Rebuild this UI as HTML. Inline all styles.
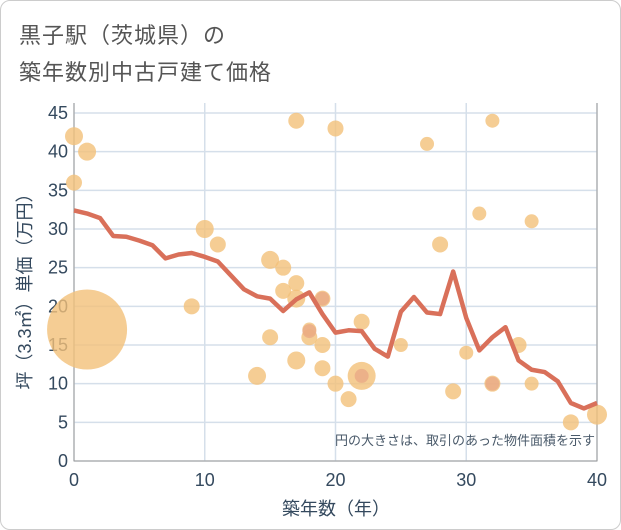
<!DOCTYPE html>
<html><head><meta charset="utf-8"><style>
body{margin:0;background:#fff;font-family:"Liberation Sans","Noto Sans CJK JP",sans-serif;}
#wrap{position:relative;width:619px;height:528px;border:1px solid #ccc;border-radius:10px;overflow:hidden;background:#fff}
#title{position:absolute;left:18px;top:16px;font-size:22px;line-height:37px;color:#555;letter-spacing:1px}
svg{position:absolute;left:0;top:0}
</style></head><body>
<div id="wrap">
<div id="title">黒子駅（茨城県）の<br>築年数別中古戸建て価格</div>
<svg id="chart" width="621" height="530"></svg>
</div>
<script>
const years=[0,1,2,3,4,5,6,7,8,9,10,11,12,13,14,15,16,17,18,19,20,21,22,23,24,25,26,27,28,29,30,31,32,33,34,35,36,37,38,39,40];
const avgPrice=[32.4,32,31.4,29.1,29,28.5,27.9,26.2,26.7,26.9,26.4,25.8,24,22.2,21.3,21,19.4,20.9,21.8,19,16.6,16.9,16.8,14.5,13.5,19.3,21.2,19.2,19,24.5,18.5,14.3,16,17.3,13,11.8,11.5,10.3,7.5,6.8,7.5];
const bubbleX=[0,0,1,1,9,10,11,14,15,15,16,16,17,17,17,17,18,18,19,19,19,20,20,21,22,22,25,27,28,29,30,31,32,32,34,35,35,38,40];
const bubbleY=[42,36,40,17,20,30,28,11,26,16,25,22,44,23,21,13,17,16,21,15,12,43,10,8,18,11,15,41,28,9,14,32,44,10,15,31,10,5,6];
const bubbleR=[9,8,9,40,8,9,8,9,9,8,8,8,8,8,9,9,7,8,8,8,8,8,8,8,8,14,7,7,8,8,7,7,7,8,8,7,7,8,10];
const pinkX=[22,32,18,19];
const pinkY=[11,10,16.8,21];
const xTicks=[0,10,20,30,40];
const yTicks=[0,5,10,15,20,25,30,35,40,45];
const X0=73,X1=596,Y0=460,Y1=112;
const sx=v=>X0+(X1-X0)*v/40, sy=v=>Y0-(Y0-Y1)*v/45;
const svg=document.getElementById('chart');const NS='http://www.w3.org/2000/svg';
function mk(t,a){const e=document.createElementNS(NS,t);for(const k in a)e.setAttribute(k,a[k]);svg.appendChild(e);return e;}
let g;
yTicks.forEach(v=>{g=mk('line',{x1:X0,x2:X1,y1:sy(v),y2:sy(v),stroke:'#d5dfea','stroke-width':1.5});


g=mk('text',{x:X0-6,y:sy(v)+6,'text-anchor':'end','font-size':18,fill:'#34495e'});g.textContent=v;

});
xTicks.forEach(v=>{g=mk('line',{x1:sx(v),x2:sx(v),y1:Y1-10,y2:Y0,stroke:'#d5dfea','stroke-width':1.5});


g=mk('text',{x:sx(v),y:Y0+25,'text-anchor':'middle','font-size':18,fill:'#34495e'});g.textContent=v;

});
g=mk('path',{d:`M${X0},${Y1-10}V${Y0}H${X1}V${Y1-10}`,fill:'none',stroke:'#999','stroke-width':1});


bubbleX.forEach((x,i)=>{g=mk('circle',{cx:sx(x),cy:sy(bubbleY[i]),r:bubbleR[i],fill:'#f2c079','fill-opacity':0.8});

});
pinkX.forEach((x,i)=>{g=mk('circle',{cx:sx(x),cy:sy(pinkY[i]),r:7,fill:'#e8a585','fill-opacity':0.7});

});
g=mk('polyline',{points:years.map((y,i)=>sx(y)+','+sy(avgPrice[i])).join(' '),fill:'none',stroke:'#d9705a','stroke-width':4.5,'stroke-linejoin':'round'});


g=mk('text',{x:594,y:444,'text-anchor':'end','font-size':13,fill:'#4a5a6a'});g.textContent='円の大きさは、取引のあった物件面積を示す';


g=mk('text',{x:335,y:514,'text-anchor':'middle','font-size':18,fill:'#34495e'});g.textContent='築年数（年）';


g=mk('text',{x:30,y:286,'text-anchor':'middle','font-size':18,fill:'#34495e',transform:'rotate(-90 30 286)'});g.textContent='坪（3.3㎡）単価（万円）';


</script>
</body></html>
